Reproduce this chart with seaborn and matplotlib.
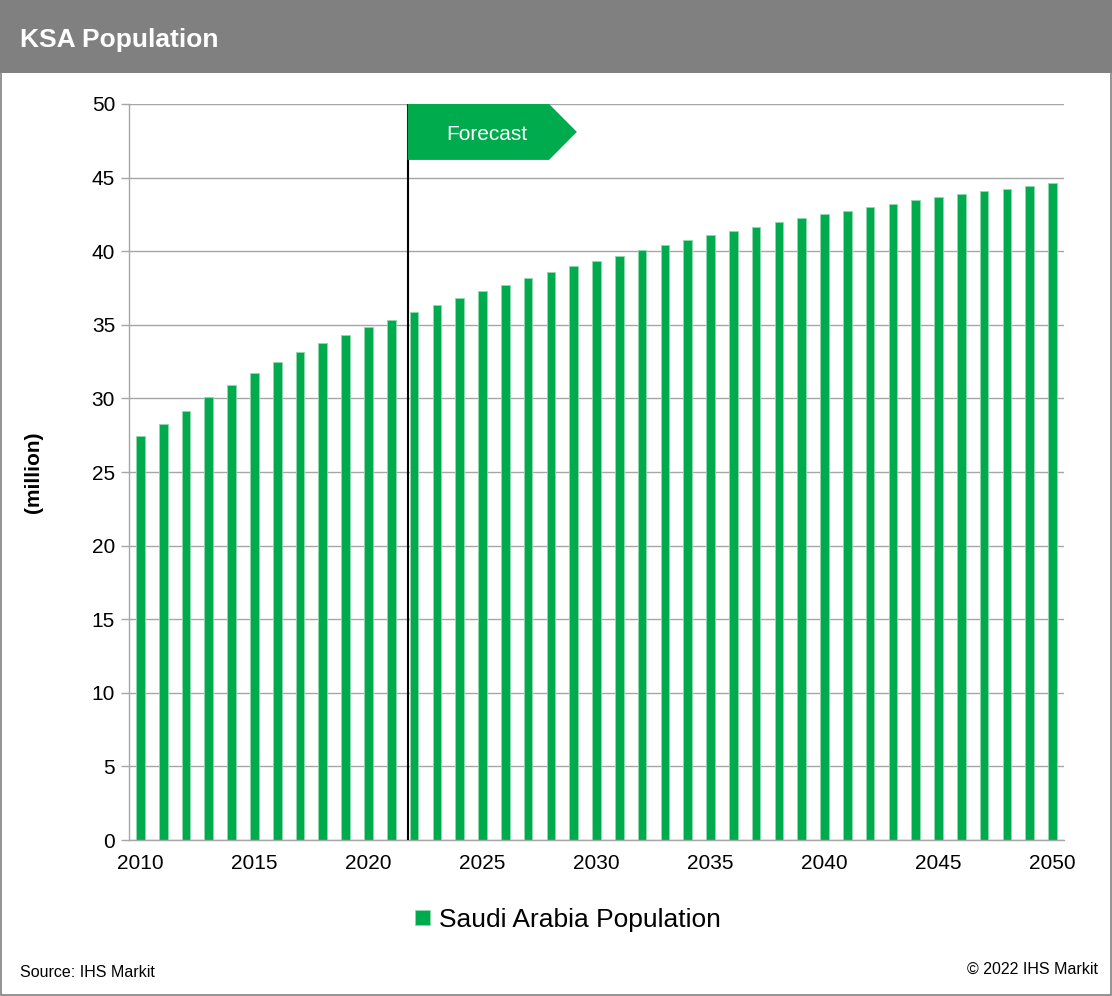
import pandas as pd
import matplotlib.pyplot as plt
import seaborn as sns
from matplotlib.patches import Rectangle, Polygon

# Data (million people)
years = list(range(2010, 2051))
population = [27.45, 28.28, 29.14, 30.07, 30.91, 31.75, 32.47, 33.13, 33.74, 34.33,
              34.85, 35.33, 35.85, 36.35, 36.85, 37.30, 37.72, 38.18, 38.60, 39.00,
              39.33, 39.70, 40.08, 40.44, 40.76, 41.08, 41.37, 41.66, 41.96, 42.23,
              42.50, 42.73, 43.00, 43.23, 43.46, 43.68, 43.89, 44.07, 44.25, 44.43,
              44.61]
tick_years = [2010, 2015, 2020, 2025, 2030, 2035, 2040, 2045, 2050]
series_name = 'Saudi Arabia Population'
forecast_pos = 11.72  # forecast divider, in category units from 2010

GREEN = '#00AB4E'
GRID = '#A6A6A6'

sns.set_theme(style='white')
plt.rcParams['font.family'] = ['Liberation Sans', 'DejaVu Sans']
plt.rcParams['text.color'] = 'black'
plt.rcParams['axes.labelcolor'] = 'black'
plt.rcParams['xtick.color'] = 'black'
plt.rcParams['ytick.color'] = 'black'

df = pd.DataFrame({'year': [str(y) for y in years], 'population': population,
                   'series': series_name})

fig = plt.figure(figsize=(11.12, 9.96), dpi=100)
ax = fig.add_axes([0.116, 0.1566, 0.8408, 0.739])

sns.barplot(data=df, x='year', y='population', hue='series', palette=[GREEN],
            saturation=1, width=0.38, edgecolor='#8FD9AE', linewidth=0.6, ax=ax,
            legend=True)

ax.set_ylim(0, 50)
ax.set_yticks(range(0, 51, 5))
ax.set_xlim(-0.5, len(years) - 0.5)
ax.set_xticks([years.index(y) for y in tick_years])
ax.set_xticklabels([str(y) for y in tick_years])
ax.set_xticks([i - 0.5 for i in range(len(years) + 1)], minor=True)
ax.tick_params(axis='x', which='major', length=0, labelsize=15, pad=10, labelcolor='black')
ax.tick_params(axis='x', which='minor', length=6, color=GRID, width=1, direction='out')
ax.tick_params(axis='y', which='major', length=6, color=GRID, width=1, labelsize=15,
               pad=4, left=True, direction='out', labelcolor='black')
ax.set_xlabel('')
ax.set_ylabel('(million)', fontsize=15, fontweight='bold', labelpad=35, color='black')

ax.yaxis.grid(True, color=GRID, linewidth=1)
ax.set_axisbelow(True)
for side in ['top', 'right']:
    ax.spines[side].set_visible(False)
for side in ['left', 'bottom']:
    ax.spines[side].set_color(GRID)
    ax.spines[side].set_linewidth(1)

# forecast divider and tag
ax.axvline(forecast_pos, color='black', linewidth=1.5, zorder=5)
tag = Polygon([(forecast_pos, 50), (forecast_pos + 6.2, 50), (forecast_pos + 7.42, 48.1),
               (forecast_pos + 6.2, 46.2), (forecast_pos, 46.2)],
              closed=True, facecolor=GREEN, edgecolor='none', zorder=6, clip_on=False)
ax.add_patch(tag)
ax.text(forecast_pos + 3.45, 47.9, 'Forecast', color='white', fontsize=15,
        ha='center', va='center', zorder=7)

# legend below the chart
handles, labels = ax.get_legend_handles_labels()
ax.get_legend().remove()
fig.legend(handles, labels, loc='center', bbox_to_anchor=(0.511, 0.0765),
           frameon=False, fontsize=19, handlelength=0.55, handleheight=0.55,
           handletextpad=0.35, labelcolor='black')

# header band, border and footer texts
fig.patches.append(Rectangle((0, 0.9267), 1, 0.0733, transform=fig.transFigure,
                             facecolor='#7F807F', edgecolor='none', zorder=0))
fig.patches.append(Rectangle((0.0009, 0.001), 0.9982, 0.998, transform=fig.transFigure,
                             facecolor='none', edgecolor='#7F807F', linewidth=1.2, zorder=1))
fig.text(0.018, 0.9598, 'KSA Population', color='white', fontsize=19,
         fontweight='bold', ha='left', va='center')
fig.text(0.018, 0.024, 'Source: IHS Markit', fontsize=11.5, ha='left', va='center')
fig.text(0.987, 0.027, '\u00a9 2022 IHS Markit', fontsize=11.5, ha='right', va='center')

plt.savefig('out.png', dpi=100)
plt.close()
